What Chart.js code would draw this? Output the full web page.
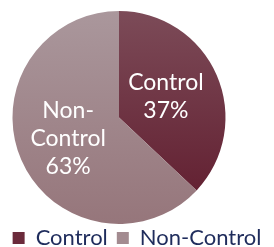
<!DOCTYPE html>
<html>
<head>
<meta charset="utf-8">
<script src="https://cdn.jsdelivr.net/npm/chart.js@4/dist/chart.umd.min.js"></script>
<style>
  html, body { margin: 0; padding: 0; background: #fff; }
  #wrap { width: 274px; height: 247px; }
</style>
</head>
<body>
<div id="wrap"><canvas id="pie-chart"></canvas></div>
<script>
const categories = ['Control', 'Non-Control'];
const shares = [37, 63];
// text written inside each slice, line by line
const sliceLabels = [['Control', '37%'], ['Non-', 'Control', '63%']];

const topColors = ['#7c4b58', '#aa979c'];
const bottomColors = ['#5f1a2c', '#96767b'];
const legendColors = ['#6b2a3b', '#a38b90'];

// vertical gradient for each slice, from the chart area
function sliceFill(ctx) {
    const i = ctx.dataIndex;
    const area = ctx.chart.chartArea;
    if (!area) return legendColors[i];
    const g = ctx.chart.ctx.createLinearGradient(0, area.top, 0, area.bottom);
    g.addColorStop(0, topColors[i]);
    g.addColorStop(1, bottomColors[i]);
    return g;
}

// pie sits left of centre and a bit lower while the legend uses the full width
const shiftPie = {
    id: 'shiftPie',
    afterLayout(chart) {
        const a = chart.chartArea;
        a.right -= 36;
        a.bottom += 6;
        a.width = a.right - a.left;
        a.height = a.bottom - a.top;
    }
};

// draws the white labels in the middle of each slice
const sliceText = {
    id: 'sliceText',
    afterDatasetsDraw(chart) {
        const c = chart.ctx;
        const meta = chart.getDatasetMeta(0);
        c.save();
        c.fillStyle = '#ffffff';
        c.font = '23px Lato';
        c.textAlign = 'center';
        c.textBaseline = 'middle';
        const lineH = 28;
        meta.data.forEach((arc, i) => {
            const p = arc.tooltipPosition();
            const lines = sliceLabels[i];
            const y0 = p.y - (lines.length - 1) * lineH / 2;
            lines.forEach((t, k) => c.fillText(t, p.x - 2, y0 + k * lineH));
        });
        c.restore();
    }
};

new Chart('pie-chart', {
    type: 'pie',
    data: {
        labels: categories,
        datasets: [{
            data: shares,
            backgroundColor: sliceFill,
            borderWidth: 0
        }]
    },
    options: {
        responsive: true,
        maintainAspectRatio: false,
        animation: false,
        layout: { padding: { top: 11, right: 0, left: 0, bottom: -12 } },
        plugins: {
            tooltip: { enabled: false },
            legend: {
                position: 'bottom',
                labels: {
                    font: { family: 'Lato', size: 22 },
                    color: '#1f2c5c',
                    boxWidth: 12,
                    boxHeight: 12,
                    padding: 9,
                    generateLabels(chart) {
                        return categories.map((name, i) => ({
                            text: name,
                            fillStyle: legendColors[i],
                            strokeStyle: legendColors[i],
                            lineWidth: 0,
                            fontColor: '#1f2c5c',
                            index: i
                        }));
                    }
                }
            }
        }
    },
    plugins: [shiftPie, sliceText]
});
</script>
</body>
</html>
